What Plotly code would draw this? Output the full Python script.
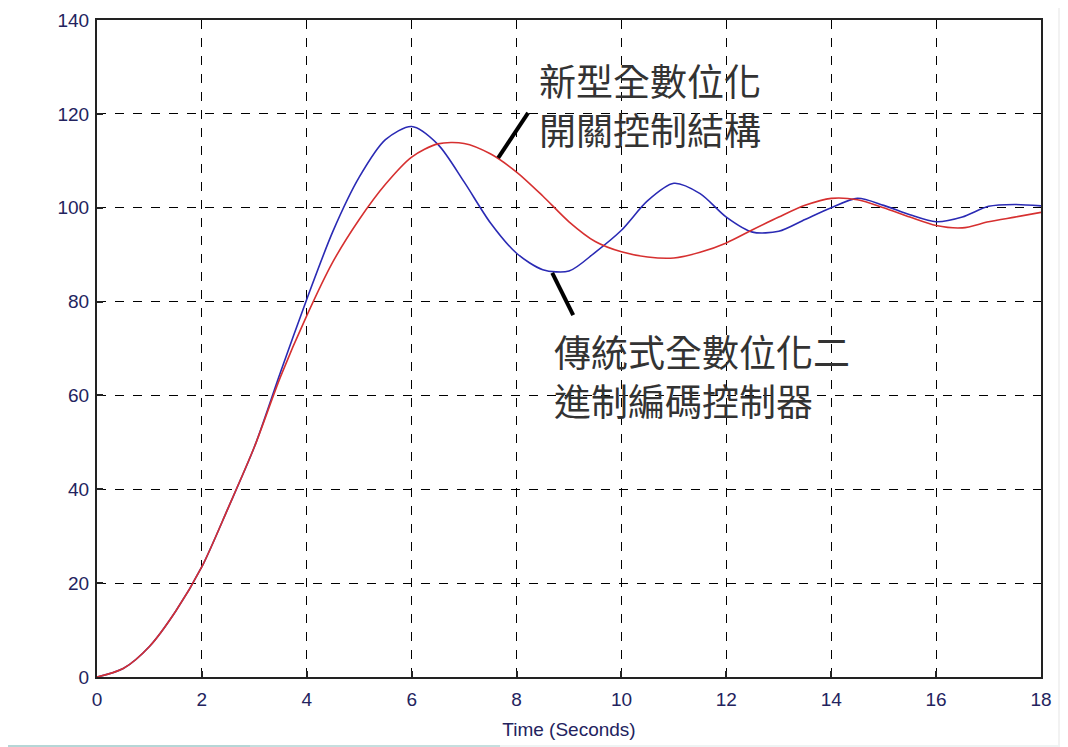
import plotly.graph_objects as go

# ---- data ----
time_s = [0, 0.5, 1, 1.5, 2, 2.5, 3, 3.5, 4, 4.5, 5, 5.5, 6, 6.5, 7, 7.5, 8, 8.5, 9,
          9.5, 10, 10.5, 11, 11.5, 12, 12.5, 13, 13.5, 14, 14.5, 15, 15.5, 16, 16.5,
          17, 17.5, 18]
new_switching = [0, 1.8, 6.5, 14, 23.5, 36, 49, 64, 77, 88.5, 97.5, 105, 110.8,
                 113.6, 113.7, 111.5, 107.6, 102.5, 97, 92.8, 90.6, 89.5, 89.3, 90.5,
                 92.5, 95.3, 98, 100.5, 102, 101.7, 100, 98, 96.2, 95.7, 97, 98, 99]
binary_coded = [0, 1.8, 6.5, 14, 23.5, 36, 49, 65, 80.5, 95, 106.5, 114.5, 117.3,
                113.5, 105.5, 96.8, 90.3, 86.8, 86.5, 90.5, 95.2, 101.5, 105.2, 103,
                98, 94.8, 95, 97.5, 100, 102, 100.5, 98.5, 97, 98, 100.3, 100.7, 100.4]
x_ticks = [0, 2, 4, 6, 8, 10, 12, 14, 16, 18]
y_ticks = [0, 20, 40, 60, 80, 100, 120, 140]
label_new = ["新型全數位化", "開關控制結構"]
label_old = ["傳統式全數位化二", "進制編碼控制器"]
x_title = "Time (Seconds)"

fig = go.Figure()
fig.add_trace(go.Scatter(x=time_s, y=binary_coded, mode="lines",
                         line=dict(color="#2a2ab4", width=1.6, shape="spline", smoothing=0.8),
                         showlegend=False))
fig.add_trace(go.Scatter(x=time_s, y=new_switching, mode="lines",
                         line=dict(color="#d63030", width=1.6, shape="spline", smoothing=0.8),
                         showlegend=False))

lab_font = dict(family="Arial, Liberation Sans, sans-serif", size=19, color="#23235e")
axis = dict(showgrid=True, gridcolor="#000000", gridwidth=1, griddash="dash",
            showline=True, linecolor="#222222", linewidth=2, mirror=True,
            ticks="inside", ticklen=6, tickcolor="#222222", tickwidth=2,
            zeroline=False, tickfont=lab_font, automargin=False)

fig.update_xaxes(range=[0, 18], tickvals=x_ticks, ticklabelstandoff=4, **axis,
                 title=dict(text=x_title, font=lab_font, standoff=14))
fig.update_yaxes(range=[0, 140], tickvals=y_ticks, ticklabelstandoff=2, **axis)

cjk = dict(family="Noto Sans CJK TC, Noto Sans CJK SC, sans-serif", size=37, color="#333333")
for txt, yv in zip(label_new, [127.2, 116.8]):
    fig.add_annotation(x=8.41, y=yv, xref="x", yref="y", text=txt, showarrow=False,
                       xanchor="left", yanchor="middle", font=cjk, borderpad=0)
for txt, yv in zip(label_old, [69.5, 59.0]):
    fig.add_annotation(x=8.70, y=yv, xref="x", yref="y", text=txt, showarrow=False,
                       xanchor="left", yanchor="middle", font=cjk, borderpad=0)

# leader lines
fig.add_shape(type="line", xref="x", yref="y", x0=7.65, y0=110.6, x1=8.22, y1=120.2,
              line=dict(color="black", width=4))
fig.add_shape(type="line", xref="x", yref="y", x0=8.68, y0=86.1, x1=9.08, y1=77.1,
              line=dict(color="black", width=4))

# figure is placed at (8, 8) in the page; plot area spans 97..1041 x 20..677 on screen
OX, OY = 8.0, 8.0
W, H = 944.0, 657.0
L, T = 97.0, 20.0
def px(xp):
    return (xp - L) / W
def py(yp):
    return (T + H - yp) / H
frame = [
    (1058, 8, 1068, 747, "#f2f2f2"),
    (8, 745, 1068, 747, "#eef3f3"),
    (8, 745, 500, 747, "#c5dede"),
    (8, 745, 250, 747, "#b5d6d6"),
]
for x0, y0, x1, y1, c in frame:
    fig.add_shape(type="rect", xref="paper", yref="paper", x0=px(x0), x1=px(x1),
                  y0=py(y0), y1=py(y1), fillcolor=c, line=dict(width=0), layer="below")

fig.update_layout(width=1060, height=739,
                  margin=dict(l=int(L - OX), r=int(1068 - 1041 - OX + 8), t=int(T - OY),
                              b=int(739 + OY - 677)),
                  paper_bgcolor="white", plot_bgcolor="white",
                  showlegend=False)

fig.write_html("out.html")
